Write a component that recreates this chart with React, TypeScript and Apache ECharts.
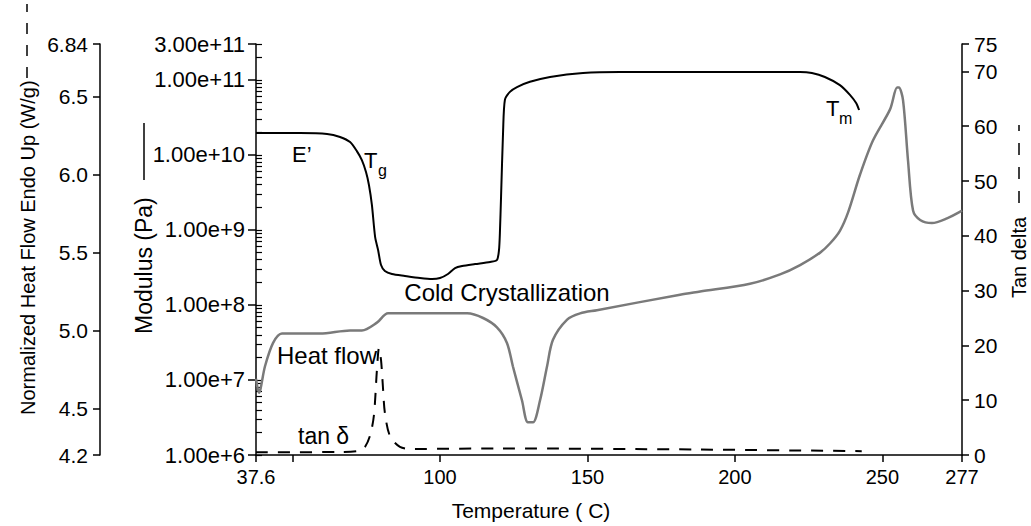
import React, { useEffect, useRef } from "react";
import * as echarts from "echarts";

const FONT = '"Liberation Sans", Arial, Helvetica, sans-serif';

// Axis ticks / labels
const tempTickValues = [37.6, 50, 100, 150, 200, 250, 277];
const tempLabelValues = [37.6, 100, 150, 200, 250, 277];
const heatTickValues = [4.2, 4.5, 5.0, 5.5, 6.0, 6.5, 6.84];
const modulusTickValues = [1e6, 1e7, 1e8, 1e9, 1e10, 1e11, 3e11];
const modulusMinorTickValues = [
  1e6, 2e6, 3e6, 4e6, 5e6, 6e6, 7e6, 8e6, 9e6,
  1e7, 2e7, 3e7, 4e7, 5e7, 6e7, 7e7, 8e7, 9e7,
  1e8, 2e8, 3e8, 4e8, 5e8, 6e8, 7e8, 8e8, 9e8,
  1e9, 2e9, 3e9, 4e9, 5e9, 6e9, 7e9, 8e9, 9e9,
  1e10, 2e10, 3e10, 4e10, 5e10, 6e10, 7e10, 8e10, 9e10,
  1e11, 2e11, 3e11,
];
const tanTickValues = [0, 10, 20, 30, 40, 50, 60, 70, 75];

// Storage modulus E' (Pa)
const ePrimeTemp = [37.6, 52.5, 61.7, 66.1, 69.5, 71.8, 73.5, 74.9, 75.9, 76.9, 78.0, 79.0, 80.0, 81.3, 83.7, 88.1, 93.2, 97.3, 100.0, 102.7, 105.1, 107.5, 111.9, 117.0, 119.3, 120.0, 120.3, 120.7, 121.4, 122.0, 123.7, 126.1, 130.5, 137.3, 148.5, 161.0, 188.2, 222.1, 226.1, 230.5, 235.6, 239.0, 241.1, 242.1];
const ePrime = [1.95e10, 1.95e10, 1.9e10, 1.73e10, 1.48e10, 1.12e10, 8.5e9, 5.9e9, 3.96e9, 2.15e9, 8.0e8, 5.4e8, 3.4e8, 2.83e8, 2.58e8, 2.43e8, 2.28e8, 2.21e8, 2.28e8, 2.58e8, 3.1e8, 3.3e8, 3.5e8, 3.73e8, 3.97e8, 5.4e8, 9.0e8, 2.8e9, 2.14e10, 5.4e10, 6.9e10, 8.0e10, 9.4e10, 1.09e11, 1.23e11, 1.27e11, 1.27e11, 1.27e11, 1.23e11, 1.09e11, 8.5e10, 6.3e10, 4.9e10, 3.96e10];

// Normalized heat flow (W/g)
const heatTemp = [37.6, 38.6, 40.65, 43.4, 46.4, 59.3, 69.5, 73.5, 78.6, 82.4, 109.2, 114.6, 119.3, 122.7, 124.7, 127.8, 129.8, 131.5, 133.9, 136.3, 138.3, 143.1, 147.5, 153.2, 181.4, 188.2, 205.1, 215.3, 222.1, 228.9, 232.3, 235.6, 238.4, 242.4, 246.8, 252.6, 255.0, 255.6, 257.0, 258.7, 260.4, 262.8, 266.8, 271.9, 277.0];
const heatFlow = [4.69, 4.6, 4.77, 4.92, 4.98, 4.98, 5.0, 5.0, 5.05, 5.11, 5.11, 5.08, 5.02, 4.92, 4.77, 4.55, 4.41, 4.41, 4.55, 4.77, 4.94, 5.07, 5.11, 5.13, 5.23, 5.25, 5.3, 5.36, 5.42, 5.5, 5.56, 5.64, 5.76, 6.0, 6.22, 6.42, 6.56, 6.56, 6.48, 6.09, 5.77, 5.71, 5.69, 5.72, 5.77];

// Tan delta
const tanTemp = [37.6, 66.1, 72.9, 74.6, 76.3, 77.6, 78.6, 79.3, 80.0, 80.7, 81.3, 83.0, 86.4, 90.8, 120.0, 188.0, 243.0];
const tanDelta = [0.5, 0.55, 0.8, 1.5, 3.6, 7.3, 15.5, 19.5, 17.3, 11.9, 7.7, 3.5, 1.5, 1.1, 1.2, 1.0, 0.7];

const zip = (xs: number[], ys: number[]) => xs.map((x, i) => [x, ys[i]]);

function txt(text: string, x: number, y: number, size: number, align = "left", rotation = 0) {
  return {
    type: "text",
    x,
    y,
    rotation,
    silent: true,
    style: {
      text,
      fill: "#000",
      font: `${size}px ${FONT}`,
      fontSize: size,
      fontFamily: FONT,
      align,
      textAlign: align,
      verticalAlign: "middle",
      textVerticalAlign: "middle",
    },
  };
}

function seg(x1: number, y1: number, x2: number, y2: number, dash?: number[]) {
  return {
    type: "line",
    silent: true,
    shape: { x1, y1, x2, y2 },
    style: { stroke: "#000", lineWidth: 1.5, lineDash: dash },
  };
}

const axisLineStyle = { color: "#000", width: 1.5 };
const labelStyle = { color: "#000", fontSize: 21, fontFamily: FONT };

export default function App() {
  const ref = useRef<HTMLDivElement>(null);
  useEffect(() => {
    if (!ref.current) return;
    const chart = echarts.init(ref.current, null, { renderer: "svg" });
    chart.setOption({
      animation: false,
      backgroundColor: "#fff",
      grid: { left: 256, right: 69, top: 44, bottom: 71, containLabel: false },
      xAxis: {
        type: "value",
        min: 37.6,
        max: 277,
        axisLine: { show: true, onZero: false, lineStyle: axisLineStyle },
        axisTick: { show: true, length: 7, customValues: tempTickValues, lineStyle: axisLineStyle },
        axisLabel: {
          ...labelStyle,
          fontSize: 20,
          margin: 12,
          customValues: tempLabelValues,
          formatter: (v: number) => (v === 37.6 ? "37.6" : String(Math.round(v))),
        },
        splitLine: { show: false },
      },
      yAxis: [
        {
          type: "value",
          position: "left",
          offset: 156,
          min: 4.2,
          max: 6.84,
          axisLine: { show: true, lineStyle: axisLineStyle },
          axisTick: { show: true, length: 7, customValues: heatTickValues, lineStyle: axisLineStyle },
          axisLabel: {
            ...labelStyle,
            margin: 12,
            customValues: heatTickValues,
            formatter: (v: number) => (Math.abs(v - 6.84) < 1e-6 ? "6.84" : v.toFixed(1)),
          },
          splitLine: { show: false },
        },
        {
          type: "log",
          logBase: 10,
          position: "left",
          offset: 0,
          min: 1e6,
          max: 3e11,
          axisLine: { show: true, lineStyle: axisLineStyle },
          axisTick: { show: true, length: 8, customValues: modulusTickValues, lineStyle: axisLineStyle },
          axisLabel: {
            ...labelStyle,
            fontSize: 22,
            margin: 11,
            customValues: modulusTickValues,
            formatter: (v: number) => v.toExponential(2),
          },
          splitLine: { show: false },
          minorTick: { show: false },
        },
        {
          type: "log",
          logBase: 10,
          position: "left",
          offset: 0,
          min: 1e6,
          max: 3e11,
          axisLine: { show: false },
          axisTick: { show: true, inside: true, length: 6, customValues: modulusMinorTickValues, lineStyle: { color: "#000", width: 1.2 } },
          axisLabel: { show: false },
          splitLine: { show: false },
        },
        {
          type: "value",
          position: "right",
          offset: 0,
          min: 0,
          max: 75,
          axisLine: { show: true, lineStyle: axisLineStyle },
          axisTick: { show: true, length: 7, customValues: tanTickValues, lineStyle: axisLineStyle },
          axisLabel: { ...labelStyle, margin: 12, customValues: tanTickValues },
          splitLine: { show: false },
        },
      ],
      series: [
        {
          name: "Heat flow",
          type: "line",
          yAxisIndex: 0,
          data: zip(heatTemp, heatFlow),
          showSymbol: false,
          symbol: "none",
          smooth: 0.3,
          lineStyle: { color: "#7a7a7a", width: 2.5 },
          z: 2,
        },
        {
          name: "E'",
          type: "line",
          yAxisIndex: 1,
          data: zip(ePrimeTemp, ePrime),
          showSymbol: false,
          symbol: "none",
          smooth: 0.25,
          lineStyle: { color: "#000", width: 2 },
          z: 3,
        },
        {
          name: "tan delta",
          type: "line",
          yAxisIndex: 3,
          data: zip(tanTemp, tanDelta),
          showSymbol: false,
          symbol: "none",
          smooth: 0.3,
          lineStyle: { color: "#000", width: 2, type: [12, 10] },
          z: 3,
        },
      ],
      graphic: [
        txt("Normalized Heat Flow Endo Up (W/g)", 28, 415, 20, "left", Math.PI / 2),
        seg(27, 78, 27, 4, [11, 11]),
        txt("Modulus (Pa)", 144, 334, 23, "left", Math.PI / 2),
        seg(144, 180, 144, 123),
        txt("Tan delta", 1019, 298, 20, "left", Math.PI / 2),
        seg(1019, 203, 1019, 125, [12, 12]),
        txt("Temperature ( C)", 531, 510, 21, "center"),
        txt("E\u2019", 292, 154, 22),
        txt("T", 364, 160, 22),
        txt("g", 378, 170, 16),
        txt("T", 826, 108, 22),
        txt("m", 839, 118, 16),
        txt("Cold Crystallization", 507, 292, 24, "center"),
        txt("Heat flow", 277, 355, 24),
        txt("tan \u03b4", 298, 436, 23),
      ],
    });
    return () => chart.dispose();
  }, []);
  return (
    <div
      ref={ref}
      style={{ position: "absolute", left: 0, top: 0, width: 1031, height: 526, background: "#fff" }}
    />
  );
}
